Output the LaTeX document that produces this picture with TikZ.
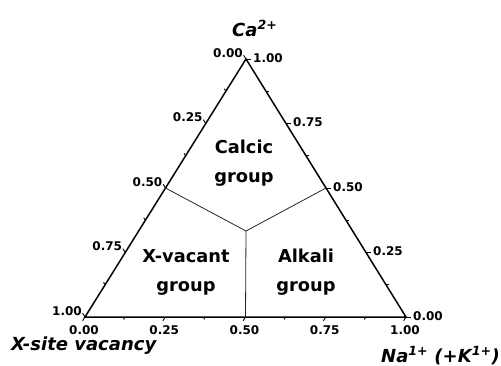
\documentclass[tikz,border=0pt]{standalone}
\usepackage{fontspec}
\setmainfont{DejaVu Sans}
\usepackage{tikz}
\usetikzlibrary{calc,positioning}
\tikzset{
  axis line/.style={line width=1.5pt,draw=black,line join=miter},
  tick line/.style={line width=0.9pt,draw=black},
  field line/.style={line width=0.8pt,draw=black!85},
  tick label/.style={font=\fontsize{12}{14}\selectfont\bfseries,inner sep=0pt,text=black},
  group label/.style={font=\fontsize{17.8}{29}\selectfont\bfseries,align=center,inner sep=0pt,text=black},
  axis title/.style={font=\fontsize{18}{21}\selectfont\bfseries\itshape,inner sep=0pt,text=black}
}
\begin{document}
\begin{tikzpicture}[x=1pt,y=-1pt]
        \useasboundingbox (0,0) rectangle (501,365);
        % corners of the ternary field
        \coordinate (xv) at (85,317);
        \coordinate (na) at (406,317);
        \coordinate (ca) at (246,59);
        \coordinate (ctr) at (246,231);
        \draw[axis line] (xv) -- (na) -- (ca) -- cycle;
        % bottom axis
        \foreach \t/\val [count=\i] in {0/0.00,0.25/0.25,0.5/0.50,0.75/0.75,1/1.00}{
          \coordinate (b\i) at ($(xv)!\t!(na)$);
          \draw[tick line] (b\i) -- ++(-2.4,3.8);
          \node[tick label,anchor=north] (bl\i) at ($(b\i)+(-1,8.5)$) {\val};
        }
        % left axis
        \foreach \t/\val [count=\i] in {0/0.00,0.25/0.25,0.5/0.50,0.75/0.75,1/1.00}{
          \coordinate (l\i) at ($(ca)!\t!(xv)$);
          \draw[tick line] (l\i) -- ++(-2.4,-3.8);
          \node[tick label,anchor=south east] (ll\i) at ($(l\i)+(-3,-1.5)$) {\val};
        }
        % right axis
        \foreach \t/\val [count=\i] in {0/0.00,0.25/0.25,0.5/0.50,0.75/0.75,1/1.00}{
          \coordinate (r\i) at ($(na)!\t!(ca)$);
          \draw[tick line] (r\i) -- ++(5,0);
          \node[tick label,anchor=west] (rl\i) at ($(r\i)+(7,-1)$) {\val};
        }
        % minor ticks
        \foreach \t in {0.125,0.375,0.625,0.875}{
          \draw[tick line] ($(xv)!\t!(na)$) -- ++(-1.6,2.5);
          \draw[tick line] ($(ca)!\t!(xv)$) -- ++(-1.6,-2.5);
          \draw[tick line] ($(na)!\t!(ca)$) -- ++(3,0);
        }
        % field boundaries
        \draw[field line] (l3) -- (ctr) -- (r3);
        \draw[field line] (ctr) -- (b3);
        \node[group label] (calcic) at (244,163) {Calcic\\group};
        \node[group label] (vacant) at (186,272) {X-vacant\\group};
        \node[group label] (alkali) at (306,272) {Alkali\\group};
        % axis titles
        \node[axis title,anchor=base west] (catitle) at (232,36) {Ca\textsuperscript{2+}};
        \node[axis title,anchor=base west] (xtitle) at (11,350) {X-site vacancy};
        \node[axis title,anchor=base east] (natitle) at (500,362) {Na\textsuperscript{1+} (+K\textsuperscript{1+})};
      \end{tikzpicture}
\end{document}
